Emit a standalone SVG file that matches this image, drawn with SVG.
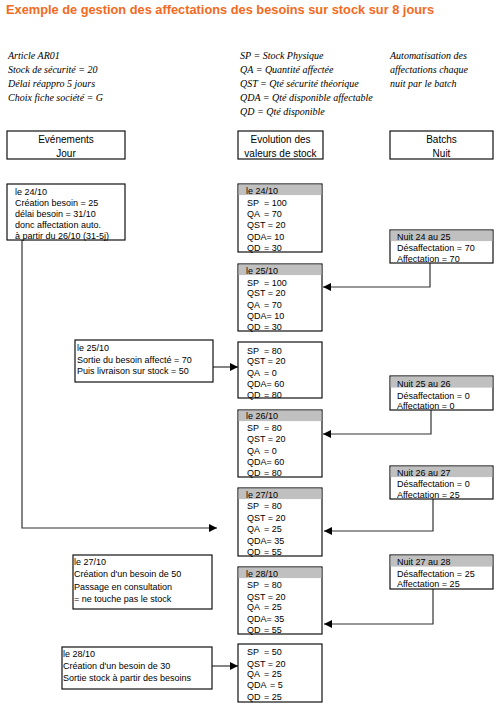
<svg xmlns="http://www.w3.org/2000/svg" width="504" height="705" viewBox="0 0 504 705">
<defs>
<style>
.title{font-family:"Liberation Sans",Arial,sans-serif;font-weight:bold;font-size:12.8px;fill:#f26a21}
.it{font-family:"Liberation Serif","Times New Roman",serif;font-style:italic;font-size:10px;fill:#000}
.hd{font-family:"Liberation Sans",Arial,sans-serif;font-size:10px;fill:#000;text-anchor:middle}
.t{font-family:"Liberation Sans",Arial,sans-serif;font-size:9px;fill:#000}
.box{fill:#fff;stroke:#111;stroke-width:1.2}
.hdr{fill:#c0c0c0}
.ln{fill:none;stroke:#333;stroke-width:1.2}
</style>
<marker id="ah" viewBox="0 0 10 10" refX="10" refY="5" markerWidth="8" markerHeight="8" markerUnits="userSpaceOnUse" orient="auto">
<path d="M0,0 L10,5 L0,10 z" fill="#000"/>
</marker>
</defs>
<rect width="504" height="705" fill="#fff"/>
<text class="title" x="6" y="14">Exemple de gestion des affectations des besoins sur stock sur 8 jours</text>

<g id="notes-article">
<text class="it" x="8" y="59">Article AR01</text>
<text class="it" x="8" y="73">Stock de sécurité = 20</text>
<text class="it" x="8" y="87">Délai réappro 5 jours</text>
<text class="it" x="8" y="101">Choix fiche société = G</text>
</g>
<g id="notes-legend">
<text class="it" x="240" y="59">SP = Stock Physique</text>
<text class="it" x="240" y="73">QA = Quantité affectée</text>
<text class="it" x="240" y="87">QST = Qté sécurité théorique</text>
<text class="it" x="240" y="101">QDA = Qté disponible affectable</text>
<text class="it" x="240" y="115">QD = Qté disponible</text>
</g>
<g id="notes-batch">
<text class="it" x="390" y="59">Automatisation des</text>
<text class="it" x="390" y="73">affectations chaque</text>
<text class="it" x="390" y="87">nuit par le batch</text>
</g>

<g id="head-events">
<rect class="box" x="7" y="131" width="118" height="28"/>
<text class="hd" x="66" y="142.5">Evénements</text>
<text class="hd" x="66" y="156.5">Jour</text>
</g>
<g id="head-stock">
<rect class="box" x="238" y="131" width="85" height="28"/>
<text class="hd" x="280.5" y="142.5">Evolution des</text>
<text class="hd" x="280.5" y="156.5">valeurs de stock</text>
</g>
<g id="head-batch">
<rect class="box" x="390" y="131" width="103" height="28"/>
<text class="hd" x="441.5" y="142.5">Batchs</text>
<text class="hd" x="441.5" y="156.5">Nuit</text>
</g>

<g id="connectors">
<polyline class="ln" points="22,240 22,528 217,528" marker-end="url(#ah)"/>
<polyline class="ln" points="430,263 430,287 323,287" marker-end="url(#ah)"/>
<line class="ln" x1="213" y1="367" x2="238" y2="367" marker-end="url(#ah)"/>
<polyline class="ln" points="431,410 431,434 323,434" marker-end="url(#ah)"/>
<polyline class="ln" points="433,499 433,531 324,531" marker-end="url(#ah)"/>
<polyline class="ln" points="433,589 433,624 324,624" marker-end="url(#ah)"/>
<line class="ln" x1="212" y1="666" x2="238" y2="666" marker-end="url(#ah)"/>
</g>

<g id="ev-2410">
<rect class="box" x="7" y="184" width="118" height="56"/>
<text class="t" x="15" y="195">le 24/10</text>
<text class="t" x="15" y="206">Création besoin = 25</text>
<text class="t" x="15" y="217">délai besoin = 31/10</text>
<text class="t" x="15" y="228">donc affectation auto.</text>
<text class="t" x="15" y="239">à partir du 26/10 (31-5j)</text>
</g>

<g id="st-2410">
<rect class="box" x="238" y="184" width="84" height="68"/>
<rect class="hdr" x="238.6" y="184.6" width="82.8" height="10.5"/>
<text class="t" x="246" y="193.5">le 24/10</text>
<text class="t" x="247" y="205.5">SP<tspan x="264">= 100</tspan></text>
<text class="t" x="247" y="216.5">QA<tspan x="264">= 70</tspan></text>
<text class="t" x="247" y="227.5">QST = 20</text>
<text class="t" x="247" y="239.5">QDA= 10</text>
<text class="t" x="247" y="250.5">QD<tspan x="264">= 30</tspan></text>
</g>

<g id="nt-2425">
<rect class="box" x="390" y="230" width="103" height="33"/>
<rect class="hdr" x="390.6" y="230.6" width="101.8" height="10.5"/>
<text class="t" x="397" y="239.5">Nuit 24 au 25</text>
<text class="t" x="397" y="250.5">Désaffectation = 70</text>
<text class="t" x="397" y="262">Affectation = 70</text>
</g>

<g id="st-2510">
<rect class="box" x="238" y="264" width="84" height="67"/>
<rect class="hdr" x="238.6" y="264.6" width="82.8" height="10.5"/>
<text class="t" x="246" y="273.5">le 25/10</text>
<text class="t" x="247" y="285.5">SP<tspan x="264">= 100</tspan></text>
<text class="t" x="247" y="295.5">QST = 20</text>
<text class="t" x="247" y="307.5">QA<tspan x="264">= 70</tspan></text>
<text class="t" x="247" y="318.5">QDA= 10</text>
<text class="t" x="247" y="330">QD<tspan x="264">= 30</tspan></text>
</g>

<g id="ev-2510">
<rect class="box" x="75" y="340" width="138" height="42"/>
<text class="t" x="77" y="350.5">le 25/10</text>
<text class="t" x="77" y="362.5">Sortie du besoin affecté = 70</text>
<text class="t" x="77" y="373.5">Puis livraison sur stock = 50</text>
</g>

<g id="st-2510b">
<rect class="box" x="238" y="342" width="84" height="56"/>
<text class="t" x="247" y="353.5">SP<tspan x="264">= 80</tspan></text>
<text class="t" x="247" y="363.5">QST = 20</text>
<text class="t" x="247" y="375.5">QA<tspan x="264">= 0</tspan></text>
<text class="t" x="247" y="386.5">QDA= 60</text>
<text class="t" x="247" y="397.5">QD<tspan x="264">= 80</tspan></text>
</g>

<g id="nt-2526">
<rect class="box" x="390" y="376" width="103" height="34"/>
<rect class="hdr" x="390.6" y="376.6" width="101.8" height="11"/>
<text class="t" x="397" y="386.5">Nuit 25 au 26</text>
<text class="t" x="397" y="398.5">Désaffectation = 0</text>
<text class="t" x="397" y="408.5">Affectation = 0</text>
</g>

<g id="st-2610">
<rect class="box" x="238" y="410" width="84" height="67"/>
<rect class="hdr" x="238.6" y="410.6" width="82.8" height="10.5"/>
<text class="t" x="246" y="418.5">le 26/10</text>
<text class="t" x="247" y="430.5">SP<tspan x="264">= 80</tspan></text>
<text class="t" x="247" y="441.5">QST = 20</text>
<text class="t" x="247" y="453.5">QA<tspan x="264">= 0</tspan></text>
<text class="t" x="247" y="464.5">QDA= 60</text>
<text class="t" x="247" y="475.5">QD<tspan x="264">= 80</tspan></text>
</g>

<g id="nt-2627">
<rect class="box" x="390" y="466" width="103" height="33"/>
<rect class="hdr" x="390.6" y="466.6" width="101.8" height="10.5"/>
<text class="t" x="397" y="475.5">Nuit 26 au 27</text>
<text class="t" x="397" y="486.5">Désaffectation = 0</text>
<text class="t" x="397" y="498">Affectation = 25</text>
</g>

<g id="st-2710">
<rect class="box" x="238" y="488" width="84" height="68"/>
<rect class="hdr" x="238.6" y="488.6" width="82.8" height="10.5"/>
<text class="t" x="246" y="497.5">le 27/10</text>
<text class="t" x="247" y="508.5">SP<tspan x="264">= 80</tspan></text>
<text class="t" x="247" y="520.5">QST = 20</text>
<text class="t" x="247" y="531.5">QA<tspan x="264">= 25</tspan></text>
<text class="t" x="247" y="543.5">QDA= 35</text>
<text class="t" x="247" y="554.5">QD<tspan x="264">= 55</tspan></text>
</g>

<g id="ev-2710">
<rect class="box" x="73" y="555" width="139" height="54"/>
<text class="t" x="74" y="564.5">le 27/10</text>
<text class="t" x="74" y="576.5">Création d'un besoin de 50</text>
<text class="t" x="74" y="589.5">Passage en consultation</text>
<text class="t" x="74" y="601.5">= ne touche pas le stock</text>
</g>

<g id="nt-2728">
<rect class="box" x="390" y="555" width="103" height="34"/>
<rect class="hdr" x="390.6" y="555.6" width="101.8" height="11"/>
<text class="t" x="397" y="564.5">Nuit 27 au 28</text>
<text class="t" x="397" y="576.5">Désaffectation = 25</text>
<text class="t" x="397" y="586.5">Affectation = 25</text>
</g>

<g id="st-2810">
<rect class="box" x="238" y="567" width="84" height="67"/>
<rect class="hdr" x="238.6" y="567.6" width="82.8" height="10.5"/>
<text class="t" x="246" y="576.5">le 28/10</text>
<text class="t" x="247" y="587.5">SP<tspan x="264">= 80</tspan></text>
<text class="t" x="247" y="599.5">QST = 20</text>
<text class="t" x="247" y="609.5">QA<tspan x="264">= 25</tspan></text>
<text class="t" x="247" y="621.5">QDA= 35</text>
<text class="t" x="247" y="632.5">QD<tspan x="264">= 55</tspan></text>
</g>

<g id="ev-2810">
<rect class="box" x="62" y="647" width="150" height="42"/>
<text class="t" x="63" y="656.5">le 28/10</text>
<text class="t" x="63" y="668.5">Création d'un besoin de 30</text>
<text class="t" x="63" y="680.5">Sortie stock à partir des besoins</text>
</g>

<g id="st-2810b">
<rect class="box" x="238" y="644" width="84" height="58"/>
<text class="t" x="247" y="654.5">SP<tspan x="264">= 50</tspan></text>
<text class="t" x="247" y="666.5">QST = 20</text>
<text class="t" x="247" y="676.5">QA<tspan x="264">= 25</tspan></text>
<text class="t" x="247" y="687.5">QDA<tspan x="270">= 5</tspan></text>
<text class="t" x="247" y="699.5">QD<tspan x="264">= 25</tspan></text>
</g>
</svg>
